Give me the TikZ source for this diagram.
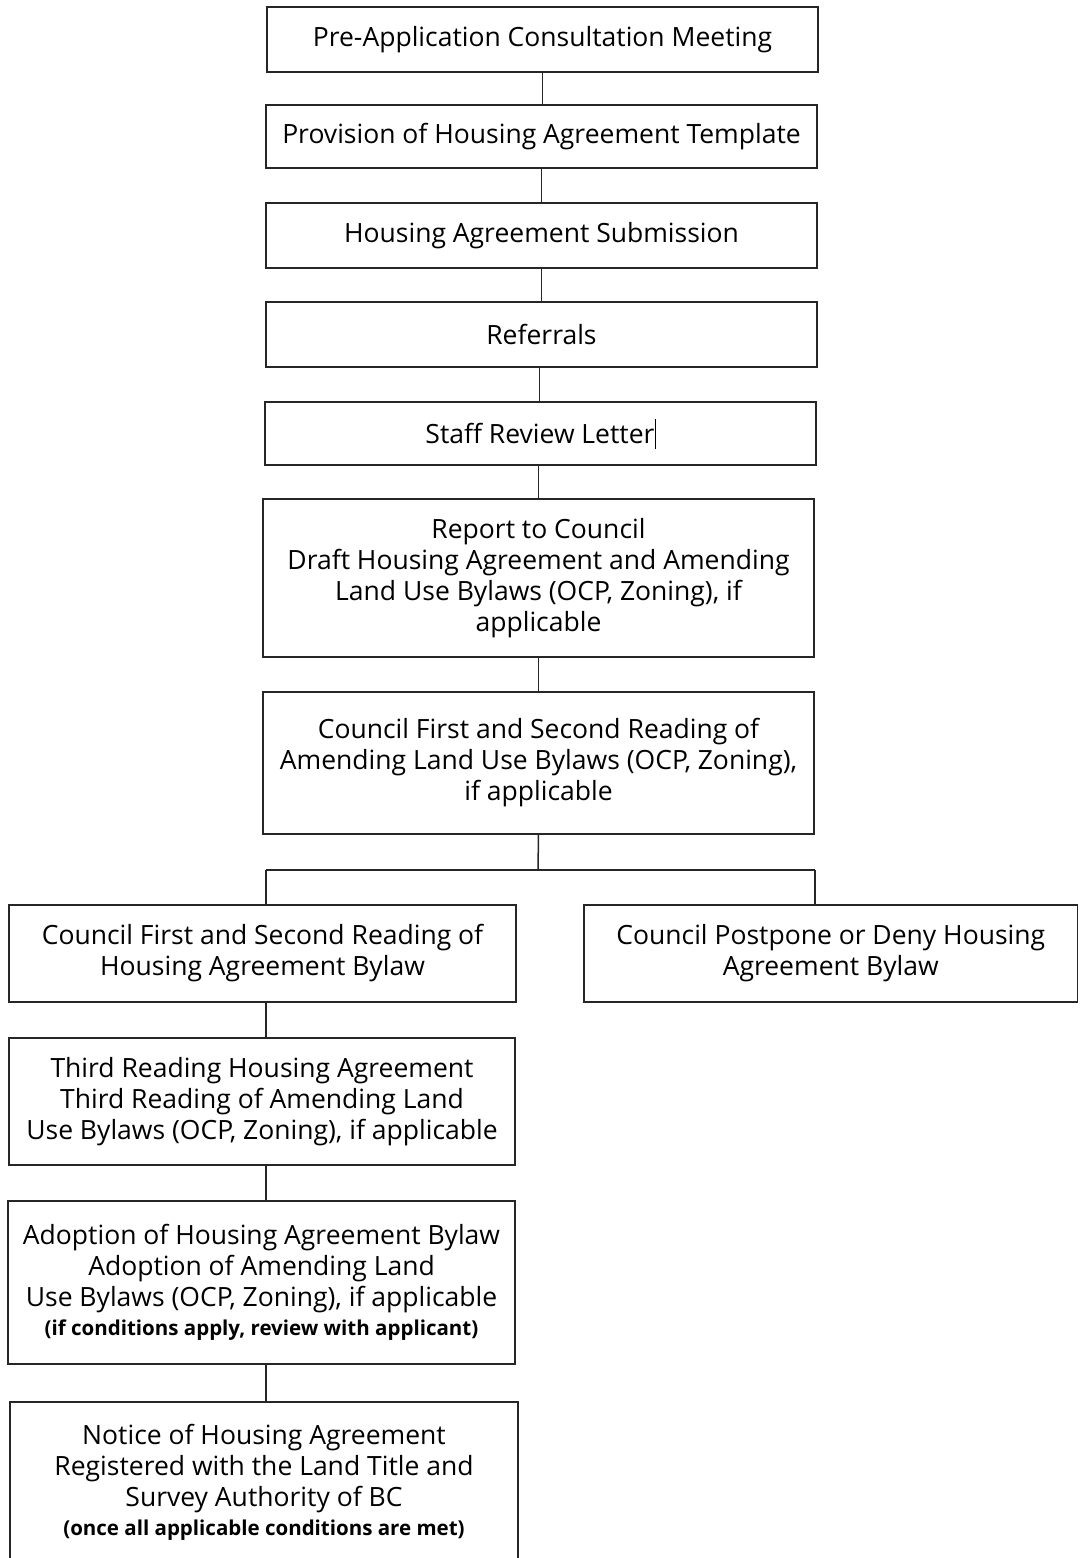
\documentclass[tikz,border=0pt]{standalone}
\usepackage{fontspec}
\setmainfont{Open Sans}
\begin{document}
\begin{tikzpicture}[x=1pt,y=1pt,
  box/.style={draw=black!85,line width=1.5pt,align=center,inner sep=0pt,
    font=\fontsize{26.5}{31}\selectfont},
  conn/.style={draw=black!85,line width=1.5pt}]
\useasboundingbox (0,0) rectangle (1079,-1558);
\newcommand{\smalltxt}[1]{{\fontsize{20.5}{24}\selectfont\bfseries #1}}
\node[box,minimum width=551,minimum height=65] (n1) at (542.5,-39.5) {Pre-Application Consultation Meeting};
\node[box,minimum width=551,minimum height=63] (n2) at (541.5,-136.5) {Provision of Housing Agreement Template};
\node[box,minimum width=551,minimum height=65] (n3) at (541.5,-235.5) {Housing Agreement Submission};
\node[box,minimum width=551,minimum height=65] (n4) at (541.5,-334.5) {Referrals};
\node[box,minimum width=551,minimum height=63] (n5) at (540.5,-433.5) {Staff Review Letter\rule[-5pt]{1pt}{30pt}};
\node[box,minimum width=551,minimum height=158] (n6) at (538.5,-578) {Report to Council\\Draft Housing Agreement and Amending\\Land Use Bylaws (OCP, Zoning), if\\applicable};
\node[box,minimum width=551,minimum height=142] (n7) at (538.5,-763) {Council First and Second Reading of\\Amending Land Use Bylaws (OCP, Zoning),\\if applicable};
\node[box,minimum width=507,minimum height=97] (n8) at (262.5,-953.5) {Council First and Second Reading of\\Housing Agreement Bylaw};
\node[box,minimum width=493.5,minimum height=97] (n9) at (830.75,-953.5) {Council Postpone or Deny Housing\\Agreement Bylaw};
\node[box,minimum width=506,minimum height=127] (n10) at (262,-1101.5) {Third Reading Housing Agreement\\Third Reading of Amending Land\\Use Bylaws (OCP, Zoning), if applicable};
\node[box,minimum width=507,minimum height=163] (n11) at (261.5,-1282.5) {Adoption of Housing Agreement Bylaw\\Adoption of Amending Land\\Use Bylaws (OCP, Zoning), if applicable\\[-2pt]\smalltxt{(if conditions apply, review with applicant)}};
\node[box,minimum width=508,minimum height=160] (n12) at (264,-1482) {Notice of Housing Agreement\\Registered with the Land Title and\\Survey Authority of BC\\[-2pt]\smalltxt{(once all applicable conditions are met)}};
\coordinate (split) at (538,-870);
\coordinate (bl) at (266,-870);
\coordinate (br) at (815,-870);
\draw[conn] (n1.south) -- (n1.south |- n2.north);
\draw[conn] (n2.south) -- (n2.south |- n3.north);
\draw[conn] (n3.south) -- (n3.south |- n4.north);
\draw[conn] ([xshift=-2pt]n4.south) -- ([xshift=-2pt]n4.south |- n5.north);
\draw[conn] ([xshift=-2pt]n5.south) -- ([xshift=-2pt]n5.south |- n6.north);
\draw[conn] (n6.south) -- (n6.south |- n7.north);
\draw[conn] (n7.south) -- (split);
\draw[conn] (bl) -- (br);
\draw[conn] (bl) -- (bl |- n8.north);
\draw[conn] (br) -- (br |- n9.north);
\draw[conn] (bl |- n8.south) -- (bl |- n10.north);
\draw[conn] (bl |- n10.south) -- (bl |- n11.north);
\draw[conn] (bl |- n11.south) -- (bl |- n12.north);
\end{tikzpicture}
\end{document}
